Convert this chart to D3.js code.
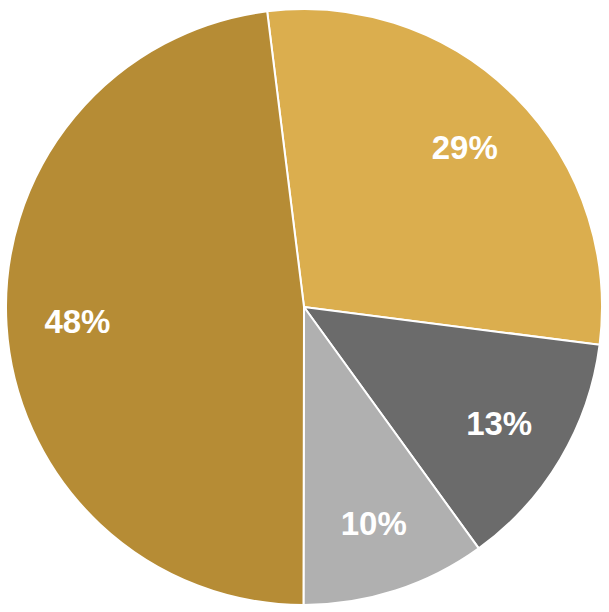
<!DOCTYPE html>
<html>
<head>
<meta charset="utf-8">
<script src="https://cdn.jsdelivr.net/npm/d3@7"></script>
<style>
  body { margin: 0; background: #fff; }
</style>
</head>
<body>
<div id="chart"></div>
<script>
// slice data, clockwise from the top
let categories = ["A", "B", "C", "D"]
let values = [29, 13, 10, 48]
let labels = ["29%", "13%", "10%", "48%"]
let colors = ["#DBAE4E", "#6B6B6B", "#B0B0B0", "#B68C35"]

let width = 609,
    height = 612,
    radius = 298

let svg = d3.select("#chart")
  .append("svg")
  .attr("width", width)
  .attr("height", height)
  .append("g")
  .attr("transform", "translate(304,307)")

// first slice starts a little left of 12 o'clock
let startAngle = -7.1 * Math.PI / 180

let pie = d3.pie()
  .value(d => d.value)
  .sort(null)
  .startAngle(startAngle)
  .endAngle(startAngle + 2 * Math.PI)

let data_ready = pie(categories.map((c, i) => ({ key: c, value: values[i], label: labels[i], color: colors[i] })))

let arc = d3.arc().innerRadius(0).outerRadius(radius)
let labelArc = d3.arc().innerRadius(227).outerRadius(227)

svg.selectAll("path")
  .data(data_ready)
  .enter()
  .append("path")
  .attr("d", arc)
  .attr("fill", d => d.data.color)
  .attr("stroke", "white")
  .style("stroke-width", "2px")

svg.selectAll("text")
  .data(data_ready)
  .enter()
  .append("text")
  .text(d => d.data.label)
  .attr("x", d => labelArc.centroid(d)[0])
  .attr("y", d => labelArc.centroid(d)[1])
  .attr("text-anchor", "middle")
  .attr("dy", "0.36em")
  .style("font-family", "'Liberation Sans', Arial, sans-serif")
  .style("font-weight", "bold")
  .style("font-size", "33px")
  .style("fill", "white")
</script>
</body>
</html>
